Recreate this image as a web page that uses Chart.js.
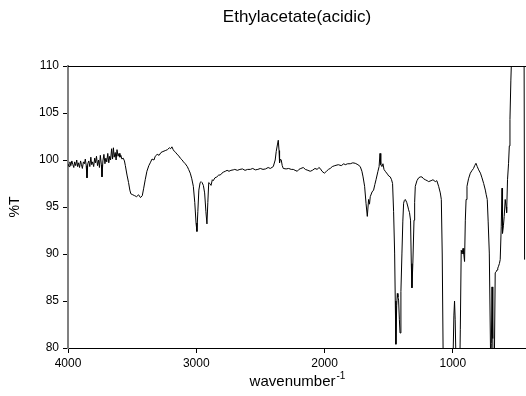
<!DOCTYPE html>
<html>
<head>
<meta charset="utf-8">
<script src="https://cdn.jsdelivr.net/npm/chart.js@4/dist/chart.umd.min.js"></script>
<style>
html,body{margin:0;padding:0;background:#fff;}
#wrap{width:526px;height:396px;}
</style>
</head>
<body>
<div id="wrap"><canvas id="c" width="526" height="396"></canvas></div>
<script>
const chartTitle = "Ethylacetate(acidic)";
const xAxisTitle = "wavenumber";
const xAxisSup = "-1";
const yAxisTitle = "%T";
const xTickValues = [4000, 3000, 2000, 1000];
const yTickValues = [80, 85, 90, 95, 100, 105, 110];

const wavenumbers = [
4000,3992,3985,3978,3970,3962,3955,3948,3940,3932,3925,3918,3910,3902,3895,3888,3880,3872,3865,3858,
3852,3846,3838,3830,3822,3815,3808,3800,3792,3785,3778,3770,3762,3755,3748,3740,3735,3728,3720,3712,
3705,3698,3690,3682,3675,3668,3660,3653,3646,3640,3632,3625,3618,3610,3602,3595,3588,3580,3570,3560,
3553,3540,3528,3518,3510,3495,3480,3465,3450,3435,3421,3410,3398,3385,3370,3359,3345,3330,3320,3305,
3290,3275,3260,3242,3225,3210,3200,3190,3180,3170,3160,3150,3140,3125,3110,3100,3086,3070,3060,3047,
3035,3023,3012,3002,2995,2988,2980,2970,2962,2955,2945,2935,2925,2917,2910,2903,2895,2885,2875,2868,
2855,2840,2825,2813,2800,2790,2774,2760,2745,2730,2712,2700,2680,2660,2640,2620,2600,2579,2560,2540,
2520,2501,2480,2460,2440,2423,2400,2385,2377,2368,2361,2355,2351,2345,2338,2330,2322,2300,2280,2260,
2244,2230,2213,2200,2185,2166,2150,2130,2112,2095,2075,2057,2045,2034,2020,2002,1985,1970,1956,1940,
1920,1893,1870,1850,1839,1820,1800,1780,1761,1740,1722,1709,1700,1688,1677,1667,1657,1650,1644,1630,
1618,1608,1599,1584,1575,1568,1562,1553,1545,1537,1527,1510,1500,1488,1478,1470,1462,1454,1449,1444,
1438,1433,1428,1423,1417,1412,1405,1397,1390,1384,1378,1371,1360,1350,1345,1338,1330,1324,1319,1312,
1303,1298,1293,1280,1267,1255,1241,1228,1215,1200,1189,1170,1155,1137,1125,1111,1098,1090,1083,1075,
1060,1020,1000,992,987,982,975,960,948,942,935,928,921,915,909,903,897,890,878,864,
850,839,830,820,810,799,785,773,760,747,740,732,725,716,705,700,695,689,683,677,
670,663,656,650,644,637,631,623,617,613,606,600,592,585,581,574,566,560,555,548,
540,520,480,446,441
];

const transmittance = [
99.6,99.3,99.8,99.4,99.9,99.5,99.2,99.8,99.4,100.0,99.3,99.7,99.2,99.9,99.5,99.1,99.8,99.6,100.1,99.4,
98.1,99.6,99.9,99.3,100.3,99.5,99.8,99.3,100.2,99.7,100.4,99.4,100.0,99.2,100.5,99.5,98.2,99.9,100.6,99.6,
100.2,99.8,100.7,99.7,100.4,100.0,101.2,100.1,101.3,100.3,100.8,100.0,101.1,100.4,100.7,100.3,100.5,100.1,100.2,99.9,
99.4,98.4,97.6,96.8,96.4,96.3,96.2,96.1,96.3,96.0,96.2,97.0,97.9,98.8,99.4,99.7,100.1,100.0,100.4,100.6,
100.5,100.8,100.9,101.0,101.1,101.3,101.2,101.4,101.1,100.9,100.8,100.6,100.5,100.2,100.0,99.8,99.6,99.3,99.0,98.6,
98.0,97.2,95.5,93.3,92.4,94.5,96.8,97.6,97.7,97.6,97.3,96.5,94.5,93.2,95.5,97.6,97.5,97.3,97.9,97.8,
98.1,98.2,98.4,98.4,98.6,98.7,98.8,98.9,98.8,98.9,98.95,99.0,98.9,99.0,99.05,98.9,99.0,99.0,99.1,98.95,
99.0,99.1,99.0,99.05,99.2,99.1,99.3,100.0,100.9,101.6,102.1,101.0,99.7,100.1,100.0,99.4,99.1,99.05,99.1,99.0,
99.0,98.9,98.8,99.0,99.1,99.2,99.0,98.9,98.8,98.9,99.1,99.0,99.2,99.1,98.8,98.6,98.8,99.0,99.1,99.3,
99.4,99.5,99.4,99.6,99.5,99.6,99.6,99.7,99.65,99.5,99.3,98.8,98.2,97.2,95.4,94.0,95.8,95.3,96.1,96.6,
96.8,97.4,97.9,98.8,99.3,100.7,99.5,99.3,99.6,99.0,98.8,98.5,98.3,98.2,97.9,97.5,94.5,90.1,85.0,80.4,
84.5,85.8,85.4,85.1,83.0,81.6,86.0,90.1,93.5,95.4,95.7,95.8,95.5,95.0,94.7,94.4,93.6,89.0,86.4,89.0,
93.6,95.5,97.2,97.8,98.1,98.2,98.2,98.0,97.9,97.8,97.7,97.8,97.9,97.7,97.8,97.2,96.5,95.8,90.0,78.0,
70.0,70.0,78.0,83.5,85.0,83.0,78.0,72.0,76.0,82.0,90.4,90.0,90.6,90.0,89.2,93.6,95.8,97.2,98.0,98.6,
98.9,99.1,99.4,99.65,99.3,98.95,98.6,98.1,97.5,96.8,96.3,95.8,93.5,90.1,78.0,80.5,86.5,81.0,75.0,78.0,
88.0,88.1,88.3,88.5,88.7,89.0,89.4,92.9,97.0,92.2,93.0,94.0,95.8,95.0,94.4,97.9,99.65,101.5,104.3,108.5,
112.0,116.0,116.0,118.0,89.4
];

const points = wavenumbers.map((w, i) => ({x: w, y: transmittance[i]}));

const FONT = "'Liberation Sans', Arial, sans-serif";

const textPlugin = {
  id: 'texts',
  afterDraw(chart) {
    const ctx = chart.ctx;
    const a = chart.chartArea;
    ctx.save();
    // top frame line
    ctx.strokeStyle = '#000';
    ctx.lineWidth = 1;
    ctx.beginPath();
    ctx.moveTo(a.left, a.top + 0.5);
    ctx.lineTo(a.right, a.top + 0.5);
    ctx.stroke();
    ctx.fillStyle = '#000';
    // title
    ctx.font = "17px " + FONT;
    ctx.textAlign = 'center';
    ctx.textBaseline = 'middle';
    ctx.fillText(chartTitle, (a.left + a.right) / 2, 17);
    // x axis title with superscript
    ctx.font = "15px " + FONT;
    const w1 = ctx.measureText(xAxisTitle).width;
    ctx.font = "10px " + FONT;
    const w2 = ctx.measureText(xAxisSup).width;
    const cx = (a.left + a.right) / 2;
    const startX = cx - (w1 + w2) / 2;
    ctx.textAlign = 'left';
    ctx.textBaseline = 'alphabetic';
    ctx.font = "15px " + FONT;
    ctx.fillText(xAxisTitle, startX, 386);
    ctx.font = "10px " + FONT;
    ctx.fillText(xAxisSup, startX + w1 + 1, 379);
    // y axis title
    ctx.font = "14px " + FONT;
    ctx.translate(15, (a.top + a.bottom) / 2);
    ctx.rotate(-Math.PI / 2);
    ctx.textAlign = 'center';
    ctx.textBaseline = 'middle';
    ctx.fillText(yAxisTitle, 0, 0);
    ctx.restore();
  }
};

new Chart(document.getElementById('c'), {
  type: 'scatter',
  data: {
    datasets: [{
      data: points,
      showLine: true,
      borderColor: '#000',
      borderWidth: 1,
      pointRadius: 0,
      pointHoverRadius: 0,
      tension: 0,
      fill: false
    }]
  },
  options: {
    responsive: false,
    animation: false,
    devicePixelRatio: 1,
    layout: { padding: { top: 66, right: 0, bottom: 0, left: 0 } },
    plugins: { legend: { display: false }, tooltip: { enabled: false }, title: { display: false } },
    scales: {
      x: {
        type: 'linear',
        reverse: true,
        min: 430,
        max: 4000,
        afterBuildTicks(scale) { scale.ticks = xTickValues.map(v => ({ value: v })); },
        afterFit(scale) { scale.height = 48; },
        ticks: {
          callback: v => String(v),
          color: '#000',
          font: { family: FONT, size: 12 },
          padding: 3,
          maxRotation: 0,
          autoSkip: false
        },
        grid: { display: true, drawOnChartArea: false, drawTicks: true, tickLength: 5, tickColor: '#000', color: '#000' },
        border: { display: true, color: '#000', width: 1 }
      },
      y: {
        type: 'linear',
        min: 80,
        max: 110,
        afterBuildTicks(scale) { scale.ticks = yTickValues.map(v => ({ value: v })); },
        afterFit(scale) { scale.width = 68; },
        ticks: {
          callback: v => String(v),
          color: '#000',
          font: { family: FONT, size: 12 },
          padding: 4
        },
        grid: { display: true, drawOnChartArea: false, drawTicks: true, tickLength: 5, tickColor: '#000', color: '#000' },
        border: { display: true, color: '#808080', width: 2 }
      }
    }
  },
  plugins: [textPlugin]
});
</script>
</body>
</html>
